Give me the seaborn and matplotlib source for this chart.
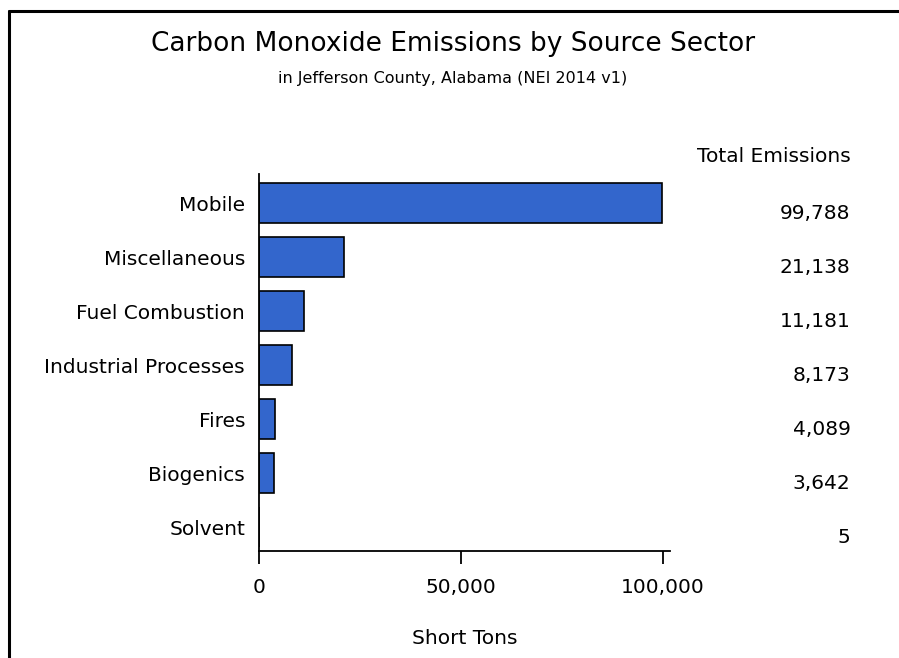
import matplotlib
matplotlib.use("Agg")
import matplotlib.pyplot as plt
import matplotlib.transforms as mtransforms
from matplotlib.lines import Line2D
import seaborn as sns
import pandas as pd

sectors = ["Mobile", "Miscellaneous", "Fuel Combustion", "Industrial Processes",
           "Fires", "Biogenics", "Solvent"]
emissions = [99788, 21138, 11181, 8173, 4089, 3642, 5]
x_ticks = [0, 50000, 100000]
x_tick_labels = ["0", "50,000", "100,000"]

df = pd.DataFrame({"sector": sectors, "tons": emissions})

sns.set_theme(style="white")
plt.rcParams["font.family"] = ["DejaVu Sans"]

fig = plt.figure(figsize=(8.99, 6.58), dpi=100)
ax = fig.add_axes([0.288, 0.1626, 0.457, 0.573])

sns.barplot(data=df, x="tons", y="sector", order=sectors, color="#3366CC",
            saturation=1, edgecolor="black", linewidth=1.2, width=0.74, ax=ax)

ax.set_xlim(0, 101700)
ax.set_ylim(6.44, -0.54)
ax.set_xticks(x_ticks)
ax.set_xticklabels(x_tick_labels, fontsize=14.5)
ax.tick_params(axis="x", direction="out", length=9.5, width=1.3, pad=10,
               bottom=True, colors="black")
ax.tick_params(axis="y", length=0, pad=10, labelsize=14.5)
for lbl in ax.get_yticklabels():
    lbl.set_color("black")
ax.set_ylabel("")
ax.set_xlabel("Short Tons", fontsize=14.5, labelpad=23, color="black")
for s in ["top", "right"]:
    ax.spines[s].set_visible(False)
for s in ["left", "bottom"]:
    ax.spines[s].set_color("black")
    ax.spines[s].set_linewidth(1.3)

trans = mtransforms.blended_transform_factory(fig.transFigure, ax.transData)
trans = trans + mtransforms.ScaledTranslation(0, -10 / 100, fig.dpi_scale_trans)
for i, v in enumerate(emissions):
    ax.text(0.946, i, f"{v:,}", transform=trans, ha="right", va="center",
            fontsize=14.5, color="black")
fig.text(0.946, 1 - 156 / 658, "Total Emissions", ha="right", va="center",
         fontsize=14.5, color="black")

fig.text(0.504, 1 - 44 / 658, "Carbon Monoxide Emissions by Source Sector",
         ha="center", va="center", fontsize=19, color="black")
fig.text(0.504, 1 - 78 / 658, "in Jefferson County, Alabama (NEI 2014 v1)",
         ha="center", va="center", fontsize=11.5, color="black")

# outer border (left and top visible)
fig.add_artist(Line2D([8.5 / 899, 8.5 / 899], [0, 1 - 10.5 / 658],
                      transform=fig.transFigure, color="black", linewidth=2.2))
fig.add_artist(Line2D([8.5 / 899, 1], [1 - 10.5 / 658, 1 - 10.5 / 658],
                      transform=fig.transFigure, color="black", linewidth=2.2))

fig.savefig("out.png", dpi=100, facecolor="white")
